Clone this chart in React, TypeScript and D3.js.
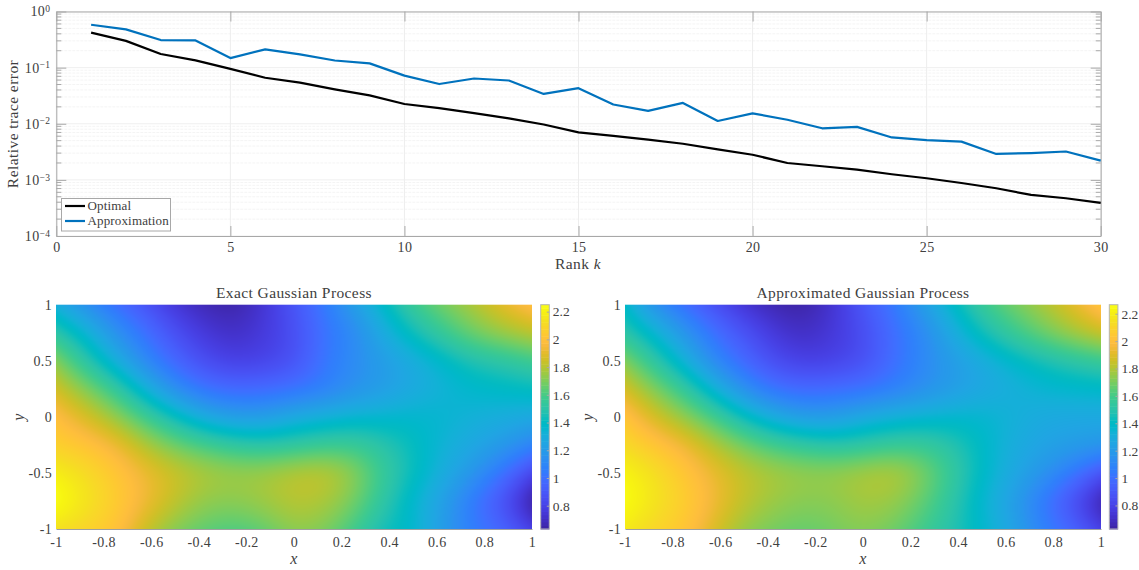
import { useEffect, useRef } from "react";
import * as d3 from "d3";

const WIDTH = 1139;
const HEIGHT = 570;
const FONT = "'Liberation Serif', serif";
const AXIS_GRAY = "#a8a8a8";
const TEXT_GRAY = "#404040";

// Top chart values
const ranks = d3.range(1, 31);
const optimal = [
  0.42, 0.3, 0.175, 0.135, 0.095, 0.066, 0.054, 0.041, 0.032, 0.0225, 0.019, 0.0155, 0.0125,
  0.0097, 0.007, 0.0061, 0.0052, 0.0044, 0.0035, 0.0028, 0.002, 0.00175, 0.00152, 0.00126,
  0.00107, 0.00088, 0.00071, 0.00054, 0.00047, 0.00039,
];
const approximation = [
  0.58, 0.48, 0.31, 0.305, 0.148, 0.212, 0.172, 0.134, 0.119, 0.072, 0.051, 0.064, 0.059, 0.034,
  0.043, 0.022, 0.017, 0.0235, 0.0112, 0.0153, 0.0118, 0.0083, 0.0088, 0.0057, 0.0051, 0.0048,
  0.0029, 0.003, 0.0032, 0.0022,
];
const rankTicks = [0, 5, 10, 15, 20, 25, 30];
const errorTicks = [1, 0.1, 0.01, 0.001, 0.0001];

// Heatmap tick labels
const xTicks = [-1, -0.8, -0.6, -0.4, -0.2, 0, 0.2, 0.4, 0.6, 0.8, 1];
const yTicks = [-1, -0.5, 0, 0.5, 1];
const colorTicks = [0.8, 1, 1.2, 1.4, 1.6, 1.8, 2, 2.2];

// Field values: rows y = 1 .. -1, columns x = -1 .. 1
const exactField = [
  [1.3, 1.15, 1.0, 0.88, 0.74, 0.66, 0.63, 0.73, 0.87, 1.03, 1.2, 1.38, 1.56, 1.68, 1.78, 1.9, 2.0],
  [1.5, 1.35, 1.15, 1.0, 0.85, 0.74, 0.69, 0.75, 0.84, 1.0, 1.1, 1.28, 1.43, 1.56, 1.68, 1.76, 1.82],
  [1.72, 1.5, 1.3, 1.1, 0.95, 0.83, 0.77, 0.79, 0.85, 1.02, 1.12, 1.2, 1.28, 1.37, 1.46, 1.5, 1.56],
  [1.86, 1.72, 1.55, 1.32, 1.12, 1.0, 0.96, 0.97, 1.0, 1.05, 1.14, 1.2, 1.27, 1.32, 1.37, 1.39, 1.41],
  [2.0, 1.88, 1.75, 1.58, 1.42, 1.27, 1.2, 1.2, 1.28, 1.32, 1.35, 1.36, 1.37, 1.36, 1.32, 1.3, 1.28],
  [2.07, 2.03, 1.95, 1.8, 1.68, 1.6, 1.53, 1.5, 1.52, 1.56, 1.57, 1.5, 1.42, 1.33, 1.27, 1.2, 1.1],
  [2.2, 2.13, 2.04, 1.94, 1.86, 1.8, 1.77, 1.78, 1.83, 1.85, 1.75, 1.56, 1.43, 1.3, 1.18, 1.02, 0.82],
  [2.28, 2.17, 2.07, 1.95, 1.83, 1.74, 1.73, 1.77, 1.82, 1.8, 1.7, 1.52, 1.36, 1.22, 1.03, 0.86, 0.6],
  [2.15, 2.1, 2.03, 1.85, 1.72, 1.65, 1.62, 1.66, 1.75, 1.72, 1.6, 1.44, 1.38, 1.2, 1.05, 0.95, 0.78],
];
const approxField = [
  [1.38, 1.15, 1.0, 0.86, 0.73, 0.65, 0.62, 0.72, 0.88, 1.02, 1.2, 1.38, 1.56, 1.68, 1.78, 1.9, 2.04],
  [1.5, 1.36, 1.17, 1.0, 0.87, 0.74, 0.68, 0.74, 0.83, 0.98, 1.1, 1.28, 1.44, 1.57, 1.68, 1.78, 1.86],
  [1.72, 1.52, 1.32, 1.1, 0.96, 0.83, 0.77, 0.78, 0.84, 0.98, 1.1, 1.2, 1.28, 1.37, 1.44, 1.5, 1.55],
  [1.88, 1.72, 1.55, 1.33, 1.13, 1.0, 0.96, 0.98, 1.0, 1.05, 1.13, 1.2, 1.26, 1.3, 1.35, 1.37, 1.38],
  [2.04, 1.88, 1.75, 1.6, 1.42, 1.28, 1.2, 1.2, 1.28, 1.33, 1.35, 1.37, 1.37, 1.33, 1.28, 1.27, 1.27],
  [2.13, 2.05, 1.96, 1.82, 1.7, 1.6, 1.54, 1.5, 1.52, 1.56, 1.57, 1.5, 1.4, 1.3, 1.25, 1.22, 1.2],
  [2.24, 2.16, 2.05, 1.94, 1.85, 1.8, 1.77, 1.77, 1.81, 1.84, 1.73, 1.56, 1.4, 1.28, 1.18, 1.05, 0.88],
  [2.28, 2.18, 2.09, 1.96, 1.84, 1.77, 1.73, 1.74, 1.79, 1.77, 1.67, 1.52, 1.36, 1.22, 1.04, 0.85, 0.62],
  [2.2, 2.12, 2.05, 1.9, 1.76, 1.7, 1.67, 1.7, 1.74, 1.7, 1.6, 1.49, 1.38, 1.25, 1.08, 0.95, 0.78],
];

// MATLAB parula, evenly spaced
const parula = [
  [0.2422, 0.1504, 0.6603], [0.2504, 0.165, 0.7076], [0.2578, 0.1818, 0.7511], [0.2647, 0.1978, 0.7952],
  [0.2706, 0.2147, 0.8364], [0.2751, 0.2342, 0.871], [0.2783, 0.2559, 0.8991], [0.2803, 0.2782, 0.9221],
  [0.2813, 0.3006, 0.9414], [0.281, 0.3228, 0.9579], [0.2795, 0.3447, 0.9717], [0.276, 0.3667, 0.9829],
  [0.2699, 0.3892, 0.9906], [0.2602, 0.4123, 0.9952], [0.244, 0.4358, 0.9988], [0.2206, 0.4603, 0.9973],
  [0.1963, 0.4847, 0.9892], [0.1834, 0.5074, 0.9798], [0.1786, 0.5289, 0.9682], [0.1764, 0.5499, 0.952],
  [0.1687, 0.5703, 0.9359], [0.154, 0.5902, 0.9218], [0.146, 0.6091, 0.9079], [0.138, 0.6276, 0.8973],
  [0.1248, 0.6459, 0.8883], [0.1113, 0.6635, 0.8763], [0.0952, 0.6798, 0.8598], [0.0689, 0.6948, 0.8394],
  [0.0297, 0.7082, 0.8163], [0.0036, 0.7203, 0.7917], [0.0067, 0.7312, 0.766], [0.0433, 0.7411, 0.7394],
  [0.0964, 0.75, 0.712], [0.1408, 0.7584, 0.6842], [0.1717, 0.767, 0.6554], [0.1938, 0.7758, 0.6251],
  [0.2161, 0.7843, 0.5923], [0.247, 0.7918, 0.5567], [0.2906, 0.7973, 0.5188], [0.3406, 0.8008, 0.4789],
  [0.3909, 0.8029, 0.4354], [0.4456, 0.8024, 0.3909], [0.5044, 0.7993, 0.348], [0.5616, 0.7942, 0.3045],
  [0.6174, 0.7876, 0.2612], [0.672, 0.7793, 0.2227], [0.7242, 0.7698, 0.191], [0.7738, 0.7598, 0.1646],
  [0.8203, 0.7498, 0.1535], [0.8634, 0.7406, 0.1596], [0.9035, 0.733, 0.1774], [0.9393, 0.7288, 0.21],
  [0.9728, 0.7298, 0.2394], [0.9956, 0.7434, 0.2371], [0.997, 0.7659, 0.2199], [0.9952, 0.7861, 0.1967],
  [0.9892, 0.8086, 0.1816], [0.9786, 0.831, 0.1655], [0.9676, 0.855, 0.1477], [0.961, 0.8804, 0.1216],
  [0.9597, 0.906, 0.1061], [0.9628, 0.9319, 0.0819], [0.9691, 0.9588, 0.0669], [0.9769, 0.9839, 0.0805],
].map(([r, g, b]) => d3.rgb(r * 255, g * 255, b * 255).formatHex());

function colorScale(lo: number, hi: number) {
  return d3
    .scaleLinear<string>()
    .domain(parula.map((_, i) => lo + ((hi - lo) * i) / (parula.length - 1)))
    .range(parula)
    .clamp(true);
}

function bspline(a: number, b: number, c: number, d: number, t: number) {
  const t2 = t * t;
  const t3 = t2 * t;
  return (
    ((1 - t) ** 3 * a + (3 * t3 - 6 * t2 + 4) * b + (-3 * t3 + 3 * t2 + 3 * t + 1) * c + t3 * d) / 6
  );
}

// smooth reading of the grid between its nodes, like shading interp
function sampleField(field: number[][], gx: number, gy: number) {
  const rows = field.length;
  const cols = field[0].length;
  const i = Math.min(Math.floor(gy), rows - 2);
  const j = Math.min(Math.floor(gx), cols - 2);
  // nodes past the edge continue the last slope, so edge values stay put
  const inCol = (r: number, c: number) =>
    c < 0
      ? 2 * field[r][0] - field[r][1]
      : c >= cols
        ? 2 * field[r][cols - 1] - field[r][cols - 2]
        : field[r][c];
  const at = (r: number, c: number) =>
    r < 0
      ? 2 * inCol(0, c) - inCol(1, c)
      : r >= rows
        ? 2 * inCol(rows - 1, c) - inCol(rows - 2, c)
        : inCol(r, c);
  const rowVal = (r: number) =>
    bspline(at(r, j - 1), at(r, j), at(r, j + 1), at(r, j + 2), gx - j);
  return bspline(rowVal(i - 1), rowVal(i), rowVal(i + 1), rowVal(i + 2), gy - i);
}

function fieldImage(field: number[][], w: number, h: number, color: (v: number) => string) {
  const canvas = document.createElement("canvas");
  canvas.width = w;
  canvas.height = h;
  const ctx = canvas.getContext("2d")!;
  const img = ctx.createImageData(w, h);
  for (let py = 0; py < h; py++) {
    for (let px = 0; px < w; px++) {
      const gx = (px / (w - 1)) * (field[0].length - 1);
      const gy = (py / (h - 1)) * (field.length - 1);
      const c = d3.rgb(color(sampleField(field, gx, gy)));
      const k = (py * w + px) * 4;
      img.data[k] = c.r;
      img.data[k + 1] = c.g;
      img.data[k + 2] = c.b;
      img.data[k + 3] = 255;
    }
  }
  ctx.putImageData(img, 0, 0);
  return canvas.toDataURL();
}

type Sel = d3.Selection<SVGSVGElement, unknown, null, undefined>;

function styleAxis(g: d3.Selection<SVGGElement, unknown, null, undefined>, size = 14, spacing = 0.35) {
  g.attr("font-family", FONT).attr("font-size", size);
  g.selectAll("text").attr("fill", TEXT_GRAY).style("letter-spacing", `${spacing}px`);
  g.selectAll("line").attr("stroke", AXIS_GRAY);
  g.selectAll(".domain").attr("stroke", AXIS_GRAY);
}

function label(
  svg: Sel,
  parts: [string, boolean][],
  x: number,
  y: number,
  size: number,
  rotate = false,
) {
  const t = svg
    .append("text")
    .attr("text-anchor", "middle")
    .attr("font-family", FONT)
    .attr("font-size", size)
    .attr("fill", TEXT_GRAY)
    .style("letter-spacing", "0.4px")
    .attr("transform", `translate(${x},${y})${rotate ? " rotate(-90)" : ""}`);
  parts.forEach(([s, italic]) =>
    t.append("tspan").attr("font-style", italic ? "italic" : "normal").text(s),
  );
}

function drawLines(svg: Sel) {
  const left = 56.3;
  const right = 1100.7;
  const top = 11.5;
  const bottom = 236;
  const x = d3.scaleLinear().domain([0, 30]).range([left, right]);
  const y = d3.scaleLog().domain([1e-4, 1]).range([bottom, top]);

  const minor = d3.range(-4, 0).flatMap((e) => d3.range(2, 10).map((m) => m * 10 ** e));

  // grid
  const grid = svg.append("g");
  grid
    .selectAll("line.minor")
    .data(minor)
    .join("line")
    .attr("x1", left)
    .attr("x2", right)
    .attr("y1", (d) => y(d))
    .attr("y2", (d) => y(d))
    .attr("stroke", "#f4f4f4")
    .attr("stroke-dasharray", "3 1");
  grid
    .selectAll("line.major")
    .data(errorTicks)
    .join("line")
    .attr("x1", left)
    .attr("x2", right)
    .attr("y1", (d) => y(d))
    .attr("y2", (d) => y(d))
    .attr("stroke", "#efefef");
  grid
    .selectAll("line.vert")
    .data(rankTicks)
    .join("line")
    .attr("x1", (d) => x(d))
    .attr("x2", (d) => x(d))
    .attr("y1", top)
    .attr("y2", bottom)
    .attr("stroke", "#ededed");

  const axes = svg.append("g");
  const xBottom = axes
    .append("g")
    .attr("transform", `translate(0,${bottom})`)
    .call(
      d3.axisBottom(x).tickValues(rankTicks).tickSizeInner(-10).tickSizeOuter(0).tickPadding(6).tickFormat(String as any),
    );
  styleAxis(xBottom);
  const xTop = axes
    .append("g")
    .attr("transform", `translate(0,${top})`)
    .call(d3.axisTop(x).tickValues(rankTicks).tickSizeInner(-10).tickSizeOuter(0).tickFormat(() => ""));
  styleAxis(xTop);

  const yLeft = axes
    .append("g")
    .attr("transform", `translate(${left},0)`)
    .call(
      d3.axisLeft(y).tickValues(errorTicks).tickSizeInner(-10).tickSizeOuter(0).tickPadding(6).tickFormat(() => ""),
    );
  styleAxis(yLeft);
  // 10 with a raised exponent
  yLeft.selectAll<SVGTextElement, number>("text").each(function (d) {
    const t = d3.select(this);
    t.append("tspan").text("10");
    t.append("tspan")
      .attr("dy", "-0.45em")
      .attr("font-size", 9.5)
      .text(String(Math.round(Math.log10(d))).replace("-", "\u2212"));
  });
  const yRight = axes
    .append("g")
    .attr("transform", `translate(${right},0)`)
    .call(d3.axisRight(y).tickValues(errorTicks).tickSizeInner(-10).tickSizeOuter(0).tickFormat(() => ""));
  styleAxis(yRight);
  for (const [pos, dir] of [
    [left, 5],
    [right, -5],
  ]) {
    axes
      .append("g")
      .selectAll("line")
      .data(minor)
      .join("line")
      .attr("x1", pos)
      .attr("x2", pos + dir)
      .attr("y1", (d) => y(d))
      .attr("y2", (d) => y(d))
      .attr("stroke", AXIS_GRAY);
  }

  const line = d3
    .line<number>()
    .x((_, i) => x(ranks[i]))
    .y((d) => y(d));
  svg
    .append("path")
    .datum(optimal)
    .attr("d", line)
    .attr("fill", "none")
    .attr("stroke", "#000")
    .attr("stroke-width", 2.2)
    .attr("stroke-linejoin", "round");
  svg
    .append("path")
    .datum(approximation)
    .attr("d", line)
    .attr("fill", "none")
    .attr("stroke", "#0072bd")
    .attr("stroke-width", 2.2)
    .attr("stroke-linejoin", "round");

  // legend
  const lg = svg.append("g").attr("font-family", FONT).attr("font-size", 13).attr("fill", TEXT_GRAY);
  lg.append("rect")
    .attr("x", 61.5)
    .attr("y", 198.5)
    .attr("width", 109)
    .attr("height", 32.5)
    .attr("fill", "#fff")
    .attr("stroke", AXIS_GRAY);
  [
    ["Optimal", "#000", 206],
    ["Approximation", "#0072bd", 221],
  ].forEach(([name, color, ly]) => {
    lg.append("line")
      .attr("x1", 65)
      .attr("x2", 85)
      .attr("y1", ly as number)
      .attr("y2", ly as number)
      .attr("stroke", color as string)
      .attr("stroke-width", 2.2);
    lg.append("text")
      .attr("x", 87.5)
      .attr("y", (ly as number) + 4)
      .style("letter-spacing", "0.15px")
      .text(name as string);
  });

  label(svg, [["Relative trace error", false]], 18, 124, 15.6, true);
  label(svg, [["Rank ", false], ["k", true]], 578, 269, 15.5);
}

function drawHeatmap(
  svg: Sel,
  field: number[][],
  title: string,
  left: number,
  right: number,
  barLeft: number,
  lo: number,
  hi: number,
) {
  const top = 304.7;
  const bottom = 529;
  const x = d3.scaleLinear().domain([-1, 1]).range([left, right]);
  const y = d3.scaleLinear().domain([-1, 1]).range([bottom, top]);
  const color = colorScale(lo, hi);

  svg
    .append("image")
    .attr("x", left)
    .attr("y", top)
    .attr("width", right - left)
    .attr("height", bottom - top)
    .attr("preserveAspectRatio", "none")
    .attr("href", fieldImage(field, Math.round(right - left), Math.round(bottom - top), color));

  const xg = svg
    .append("g")
    .attr("transform", `translate(0,${bottom})`)
    .call(d3.axisBottom(x).tickValues(xTicks).tickSize(0).tickPadding(8).tickFormat(String as any));
  styleAxis(xg);
  xg.select(".domain").attr("stroke", "#777").attr("stroke-opacity", 0.7);
  const yg = svg
    .append("g")
    .attr("transform", `translate(${left},0)`)
    .call(d3.axisLeft(y).tickValues(yTicks).tickSize(0).tickPadding(4).tickFormat(String as any));
  styleAxis(yg);
  yg.select(".domain").remove();

  // colorbar
  const barW = 8.6;
  const cy = d3.scaleLinear().domain([lo, hi]).range([bottom, top]);
  const steps = d3.range(parula.length);
  svg
    .append("g")
    .selectAll("rect")
    .data(steps)
    .join("rect")
    .attr("x", barLeft)
    .attr("width", barW)
    .attr("y", (i) => cy(lo + ((hi - lo) * (i + 1)) / parula.length))
    .attr("height", (bottom - top) / parula.length + 0.5)
    .attr("fill", (i) => parula[i]);
  svg
    .append("rect")
    .attr("x", barLeft)
    .attr("y", top)
    .attr("width", barW)
    .attr("height", bottom - top)
    .attr("fill", "none")
    .attr("stroke", "#b5b5b5");
  const cg = svg
    .append("g")
    .attr("transform", `translate(${barLeft + barW},0)`)
    .call(d3.axisRight(cy).tickValues(colorTicks).tickSizeInner(-2.5).tickSizeOuter(0).tickPadding(3.5).tickFormat(String as any));
  styleAxis(cg, 13.5, 0);
  cg.select(".domain").remove();

  const mid = (left + right) / 2;
  label(svg, [[title, false]], mid, 298, 15.5);
  label(svg, [["x", true]], mid, 564, 16);
  label(svg, [["y", true]], left - 32, 417, 16, true);
}

export default function App() {
  const ref = useRef<SVGSVGElement>(null);

  useEffect(() => {
    if (!ref.current) return;
    const svg = d3.select(ref.current);
    svg.selectAll("*").remove();
    drawLines(svg);
    drawHeatmap(svg, exactField, "Exact Gaussian Process", 56, 532, 540.7, 0.632, 2.25);
    drawHeatmap(svg, approxField, "Approximated Gaussian Process", 625, 1101, 1109.3, 0.628, 2.266);
  }, []);

  return (
    <svg
      ref={ref}
      width={WIDTH}
      height={HEIGHT}
      style={{ position: "absolute", left: 0, top: 0, background: "#fff" }}
    />
  );
}
